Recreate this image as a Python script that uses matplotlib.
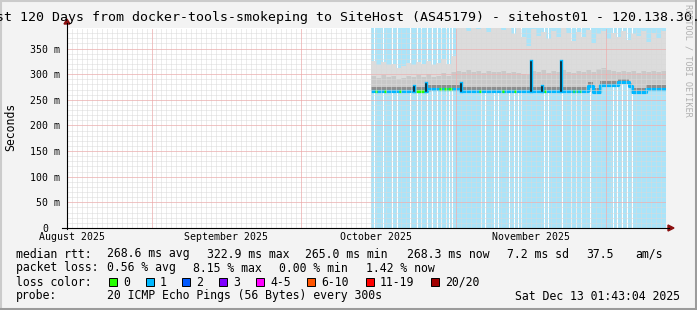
import numpy as np
import matplotlib.pyplot as plt
from matplotlib.patches import Rectangle, Polygon
from matplotlib.lines import Line2D
from datetime import datetime

plt.rcParams['font.family'] = ['DejaVu Sans Mono']

# ---- data (x = days since Aug 15 2025 01:43:04, y = milliseconds) ----
t0 = datetime(2025, 8, 15, 1, 43, 4)
month_starts = [datetime(2025, 9, 1), datetime(2025, 10, 1), datetime(2025, 11, 1), datetime(2025, 12, 1)]
month_labels = ['August 2025', 'September 2025', 'October 2025', 'November 2025']
month_label_dates = [datetime(2025, 8, 16), datetime(2025, 9, 16), datetime(2025, 10, 16), datetime(2025, 11, 16)]
y_ticks = [0, 50, 100, 150, 200, 250, 300, 350]

data_start = 60.9
data_end = 120.0

# median rtt steps
median_day = [60.9, 72.1, 78.9, 104.4, 105.4, 106.8, 110.4, 112.6, 113.2, 116.0]
median_ms = [267.5, 271, 267.5, 277, 266, 279, 284, 276, 266, 271]

# short spikes of the median
spike_day = [69.5, 72.0, 78.9, 92.9, 95.1, 99.0]
spike_ms = [276, 283, 283, 326, 276, 325]

# days where loss was 0 (green median)
loss0_spans = [(61.7, 62.1), (63.6, 63.9), (66.6, 66.9), (69.9, 71.5), (74.6, 75.2),
               (75.6, 76.1), (76.4, 77.1), (82.6, 82.9), (87.2, 87.5), (89.6, 89.9),
               (95.6, 95.9), (101.3, 101.5), (101.9, 102.1), (102.7, 102.9)]

# smoke: per day from day 61 to 119
smoke_days = list(range(61, 120))
smoke_top = [326, 318, 323, 318, 320, 312, 316, 322, 318, 324, 320, 326, 318, 322, 330, 320, 336,
             390, 390, 385, 390, 388, 390, 382, 390, 390, 386, 390, 378, 390, 372, 355,
             388, 375, 382, 368, 385, 372, 390, 380, 365, 383, 372, 386, 360, 378, 385, 368,
             380, 372, 384, 366, 378, 374, 385, 362, 380, 370, 384]
smoke_mid = [296, 292, 298, 294, 296, 290, 293, 297, 294, 298, 295, 300, 294, 296, 302, 296, 304,
             306, 304, 308, 305, 306, 303, 307, 305, 304, 306, 303, 305, 302, 300, 298,
             306, 304, 308, 303, 306, 304, 308, 305, 302, 306, 304, 308, 305, 310, 312, 308,
             306, 304, 307, 305, 306, 303, 307, 305, 306, 304, 307]

# white (no data) columns inside the blue background
gap_days = [61.5, 63.3, 65.1, 66.1, 68.7, 70.1, 70.9, 72.1, 73.1, 74.1, 74.9, 75.9, 76.5, 77.1,
            82.9, 83.7, 85.5, 86.3, 88.5, 89.5, 90.3, 90.9, 95.6, 96.4, 99.2, 101.0, 102.0,
            103.0, 104.8, 109.4, 110.2, 111.2, 112.2, 113.2]

loss_labels = ['0', '1', '2', '3', '4-5', '6-10', '11-19', '20/20']
loss_colors = ['#26ff00', '#00b8ff', '#0059ff', '#7e00ff', '#ff00ff', '#ff5500', '#ff0000', '#a10000']


def day(d):
    return (d - t0).total_seconds() / 86400.0


W, H = 697, 310
L, R, T, B = 67, 666, 28, 228
fig = plt.figure(figsize=(W / 100, H / 100), dpi=100)
fig.patch.set_facecolor('#f3f3f3')
ax = fig.add_axes([L / W, 1 - B / H, (R - L) / W, (B - T) / H])
ax.set_xlim(0, 120)
ax.set_ylim(0, 390)
ax.set_facecolor('white')
for s in ax.spines.values():
    s.set_visible(False)

# blue background where data exists
ax.axvspan(data_start, data_end, color='#aae4f9', lw=0, zorder=1)
for g in gap_days:
    ax.axvspan(g, g + 0.22, color='white', lw=0, zorder=2)

# smoke
sd = np.array(smoke_days + [data_end], dtype=float)
sd[0] = data_start
idx = np.searchsorted(median_day, sd, side='right') - 1
med_at = np.array(median_ms)[idx]
top = np.array(smoke_top + [smoke_top[-1]])
mid = np.array(smoke_mid + [smoke_mid[-1]])
ax.fill_between(sd, med_at - 3, top, step='post', color='#dcdcdc', lw=0, zorder=3)
ax.fill_between(sd, med_at - 3, mid, step='post', color='#c9c9c9', lw=0, zorder=3)

# median line
mx = median_day + [data_end]
my = median_ms + [median_ms[-1]]
ax.fill_between(mx, np.array(my), np.array(my) + 7, step='post', color='#8e8e8e', lw=0, zorder=4)
ax.step(mx, my, where='post', color='#00b8ff', lw=2.3, zorder=5, solid_capstyle='butt')
for a, b in loss0_spans:
    i = np.searchsorted(median_day, a, side='right') - 1
    ax.plot([a, b], [median_ms[i], median_ms[i]], color='#26ff00', lw=2.3, zorder=6, solid_capstyle='butt')

# grid
dot = (0, (1, 1))
for d in np.arange(day(datetime(2025, 8, 16)), 120, 1.0):
    ax.axvline(d, color='#dadada', lw=0.72, ls=dot, zorder=8)
for v in range(10, 390, 10):
    ax.axhline(v, color='#dadada', lw=0.72, ls=dot, zorder=8)
for m in month_starts:
    ax.axvline(day(m), color='#f5a0a0', lw=0.72, ls=dot, zorder=9)
for v in y_ticks[1:]:
    ax.axhline(v, color='#f5a0a0', lw=0.72, ls=dot, zorder=9)

for d, p in zip(spike_day, spike_ms):
    i = np.searchsorted(median_day, d, side='right') - 1
    ax.plot([d, d], [median_ms[i], p], color='#00b8ff', lw=2.4, zorder=10)
    ax.plot([d, d], [median_ms[i], p - 2], color='#111111', lw=1.1, zorder=11)

# ticks
ax.set_yticks(y_ticks)
ax.set_yticklabels([str(v) if v == 0 else f'{v} m' for v in y_ticks])
ax.tick_params(axis='y', length=0, pad=5, labelsize=7.1)
ax.yaxis.get_major_ticks()[0].set_pad(13.5)
ax.set_xticks([day(d) for d in month_label_dates])
ax.set_xticklabels(month_labels)
ax.tick_params(axis='x', length=0, pad=3, labelsize=7.1)


def fx(x):
    return x / W


def fy(y):
    return 1 - y / H


# axis lines with arrows
fig.add_artist(Line2D([fx(L), fx(L)], [fy(B + 1), fy(T - 5)], color='black', lw=0.8))
fig.add_artist(Line2D([fx(L - 5), fx(R + 3)], [fy(B), fy(B)], color='black', lw=0.8))
fig.add_artist(Polygon([[fx(L - 3), fy(T - 4)], [fx(L + 3), fy(T - 4)], [fx(L), fy(T - 9)]],
                       closed=True, color='#8b1010', transform=fig.transFigure))
fig.add_artist(Polygon([[fx(R + 2), fy(B - 3)], [fx(R + 2), fy(B + 3)], [fx(R + 8), fy(B)]],
                       closed=True, color='#8b1010', transform=fig.transFigure))

# frame
fig.add_artist(Line2D([0, 1], [fy(0.5), fy(0.5)], color='#cbcbcb', lw=1.5))
fig.add_artist(Line2D([fx(0.5), fx(0.5)], [0, 1], color='#cbcbcb', lw=1.5))
fig.add_artist(Line2D([0, 1], [fy(H - 1.5), fy(H - 1.5)], color='#9b9b9b', lw=2.2))
fig.add_artist(Line2D([fx(W - 1.5), fx(W - 1.5)], [0, 1], color='#9b9b9b', lw=2.2))

# texts
fig.text(fx(348.5), fy(18), 'Last 120 Days from docker-tools-smokeping to SiteHost (AS45179) - sitehost01 - 120.138.30.10',
         ha='center', va='center', fontsize=9.5)
fig.text(fx(11), fy(127), 'Seconds', rotation=90, ha='center', va='center', fontsize=8.3)
fig.text(fx(688), fy(60), 'RRDTOOL / TOBI OETIKER', rotation=270, ha='center', va='center',
         fontsize=6.1, color='#b0b0b0')

fs = 8.3
rows = [
    (254, [(16, 'median rtt:'), (107, '268.6 ms avg'), (207, '322.9 ms max'), (305, '265.0 ms min'),
           (407, '268.3 ms now'), (507, '7.2 ms sd'), (586, '37.5'), (635, 'am/s')]),
    (268, [(16, 'packet loss:'), (107, '0.56 % avg'), (193, '8.15 % max'), (279, '0.00 % min'),
           (366, '1.42 % now')]),
    (282, [(16, 'loss color:')]),
    (296, [(16, 'probe:'), (107, '20 ICMP Echo Pings (56 Bytes) every 300s')]),
]
for y, items in rows:
    for x, s in items:
        fig.text(fx(x), fy(y), s, ha='left', va='center', fontsize=fs)
fig.text(fx(680), fy(296), 'Sat Dec 13 01:43:04 2025', ha='right', va='center', fontsize=fs)

box_x = [109, 146, 182, 219, 256, 307, 366, 431]
for x, lab, c in zip(box_x, loss_labels, loss_colors):
    fig.add_artist(Rectangle((fx(x), fy(286)), 8 / W, 8 / H, facecolor=c, edgecolor='black',
                             lw=0.7, transform=fig.transFigure))
    fig.text(fx(x + 14), fy(282), lab, ha='left', va='center', fontsize=fs)

fig.savefig('out.png', dpi=100, facecolor=fig.get_facecolor())
